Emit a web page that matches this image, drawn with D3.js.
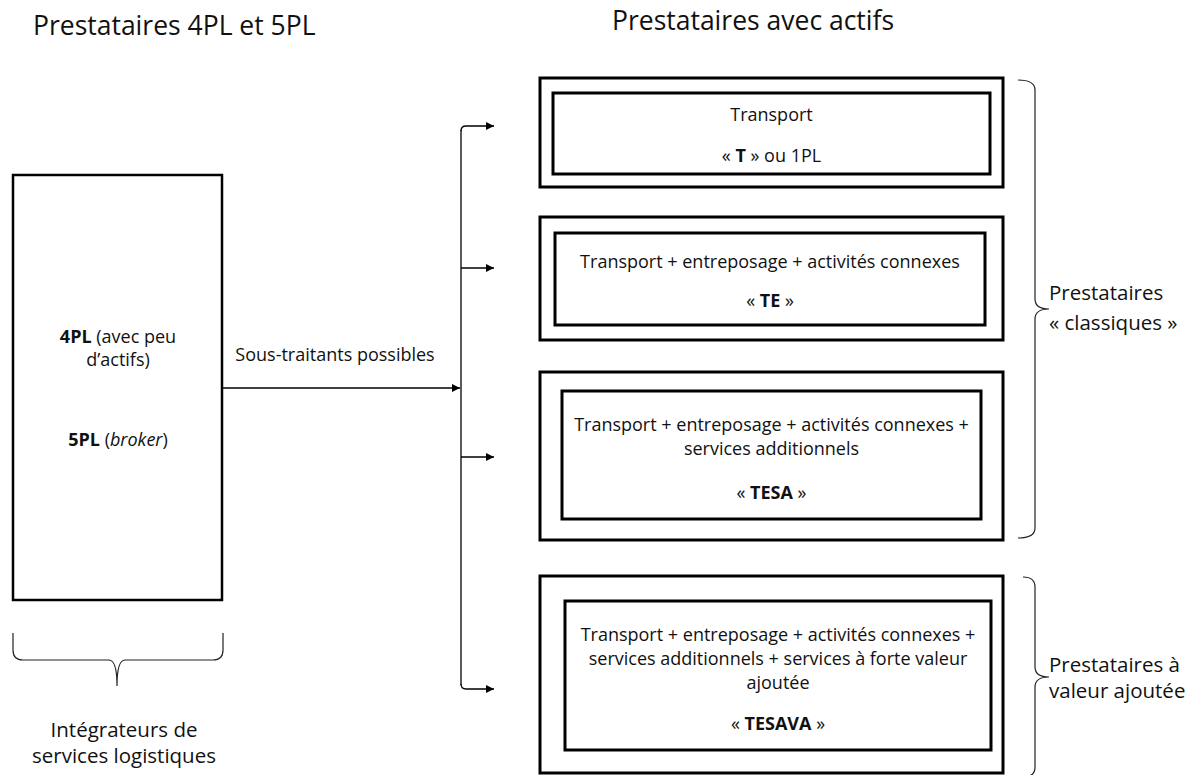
<!DOCTYPE html>
<meta charset="utf-8">
<style>
  body { margin: 0; background: #fff; }
  svg text { font-family: "Open Sans", Lato, sans-serif; fill: #111; }
  .title { font-size: 26.5px; }
  .label { font-size: 18px; }
  .side { font-size: 20.5px; }
  .frame { fill: none; stroke: #000; }
  .link { fill: none; stroke: #000; stroke-width: 1.3px; }
  .brace { fill: none; stroke: #222; stroke-width: 1.2px; }
</style>
<body>
<svg width="1195" height="775"></svg>
<script src="https://d3js.org/d3.v7.min.js"></script>
<script>

// texts, one line = list of [text, style] pieces ("b" bold, "i" italic)
var titles = ["Prestataires 4PL et 5PL", "Prestataires avec actifs"];

var integrator = [
  [["4PL", "b"], [" (avec peu", ""]],
  [["d’actifs)", ""]],
  [["5PL", "b"], [" (", ""], ["broker", "i"], [")", ""]]
];

var linkLabel = "Sous-traitants possibles";

var providers = [
  { lines: [[["Transport", ""]]],
    code: [["« ", ""], ["T", "b"], [" » ou 1PL", ""]] },
  { lines: [[["Transport + entreposage + activités connexes", ""]]],
    code: [["« ", ""], ["TE", "b"], [" »", ""]] },
  { lines: [[["Transport + entreposage + activités connexes +", ""]],
            [["services additionnels", ""]]],
    code: [["« ", ""], ["TESA", "b"], [" »", ""]] },
  { lines: [[["Transport + entreposage + activités connexes +", ""]],
            [["services additionnels + services à forte valeur", ""]],
            [["ajoutée", ""]]],
    code: [["« ", ""], ["TESAVA", "b"], [" »", ""]] }
];

var groupLabels = [
  ["Prestataires", "« classiques »"],
  ["Prestataires à", "valeur ajoutée"]
];
var bottomLabel = ["Intégrateurs de", "services logistiques"];

// ---- layout ----
var svg = d3.select("svg");

var outer = [[78, 187], [217, 340], [372, 540], [576, 773]];
var inner = [[553, 990, 93, 174], [555, 985, 233, 325], [562, 981, 391, 519], [565, 991, 601, 750]];
var codeY = [162, 307, 499, 730];
var firstLineY = [121, 268, 431, 641];
var branchY = [126, 268, 457, 689];
var busX = 461, arrowTip = 494;

function writeLine(sel, pieces) {
  pieces.forEach(function (p) {
    sel.append("tspan")
      .attr("font-weight", p[1] == "b" ? "bold" : null)
      .attr("font-style", p[1] == "i" ? "italic" : null)
      .text(p[0]);
  });
}

svg.append("defs").append("marker")
    .attr("id", "arrow")
    .attr("viewBox", "0 0 10 10")
    .attr("refX", 10).attr("refY", 5)
    .attr("markerWidth", 10).attr("markerHeight", 8)
    .attr("markerUnits", "userSpaceOnUse")
    .attr("orient", "auto")
  .append("path")
    .attr("d", "M0,0L10,5L0,10z")
    .attr("fill", "#000");

// titles
svg.append("text").attr("class", "title").attr("x", 33).attr("y", 35).text(titles[0]);
svg.append("text").attr("class", "title").attr("x", 612).attr("y", 30).text(titles[1]);

// integrator box
svg.append("rect").attr("class", "frame")
    .attr("x", 13).attr("y", 175).attr("width", 209).attr("height", 425)
    .attr("stroke-width", 2.5);

var leftY = [343, 366, 446];
integrator.forEach(function (line, i) {
  writeLine(svg.append("text").attr("class", "label")
      .attr("x", 118).attr("y", leftY[i]).attr("text-anchor", "middle"), line);
});

// main arrow + label
svg.append("path").attr("class", "link")
    .attr("d", d3.line()([[222, 388], [busX - 1, 388]]))
    .attr("stroke-width", 2)
    .attr("marker-end", "url(#arrow)");
svg.append("text").attr("class", "label")
    .attr("x", 335).attr("y", 361).attr("text-anchor", "middle")
    .text(linkLabel);

// bus with branches
var busTop = branchY[0], busBot = branchY[branchY.length - 1];
svg.append("path").attr("class", "link")
    .attr("d", "M" + busX + "," + (busTop + 4) + "L" + busX + "," + (busBot - 4));
branchY.forEach(function (y, i) {
  var d;
  if (i == 0) d = "M" + busX + "," + (y + 5) + "Q" + busX + "," + y + " " + (busX + 5) + "," + y + "L" + arrowTip + "," + y;
  else if (i == branchY.length - 1) d = "M" + busX + "," + (y - 5) + "Q" + busX + "," + y + " " + (busX + 5) + "," + y + "L" + arrowTip + "," + y;
  else d = "M" + busX + "," + y + "L" + arrowTip + "," + y;
  svg.append("path").attr("class", "link").attr("d", d).attr("marker-end", "url(#arrow)");
});

// provider boxes
providers.forEach(function (p, i) {
  var g = svg.append("g");
  g.append("rect").attr("class", "frame")
      .attr("x", 540).attr("y", outer[i][0])
      .attr("width", 463).attr("height", outer[i][1] - outer[i][0])
      .attr("stroke-width", 3);
  var b = inner[i];
  g.append("rect").attr("class", "frame")
      .attr("x", b[0]).attr("y", b[2])
      .attr("width", b[1] - b[0]).attr("height", b[3] - b[2])
      .attr("stroke-width", 3);
  var cx = (b[0] + b[1]) / 2;
  p.lines.forEach(function (line, j) {
    writeLine(g.append("text").attr("class", "label")
        .attr("x", cx).attr("y", firstLineY[i] + j * 24)
        .attr("text-anchor", "middle"), line);
  });
  writeLine(g.append("text").attr("class", "label")
      .attr("x", cx).attr("y", codeY[i]).attr("text-anchor", "middle"), p.code);
});

// vertical curly brace opening to the right
function braceV(x, y0, y1, w) {
  var m = (y0 + y1) / 2, r = 10;
  return "M" + x + "," + y0 +
    "Q" + (x + w) + "," + y0 + " " + (x + w) + "," + (y0 + r) +
    "L" + (x + w) + "," + (m - r) +
    "Q" + (x + w) + "," + m + " " + (x + w + 14) + "," + m +
    "Q" + (x + w) + "," + m + " " + (x + w) + "," + (m + r) +
    "L" + (x + w) + "," + (y1 - r) +
    "Q" + (x + w) + "," + y1 + " " + x + "," + y1;
}
svg.append("path").attr("class", "brace").attr("d", braceV(1018, 80, 538, 17));
svg.append("path").attr("class", "brace").attr("d", braceV(1023, 577, 777, 12));

var groupY = [[300, 330], [672, 698]];
groupLabels.forEach(function (lines, i) {
  lines.forEach(function (t, j) {
    svg.append("text").attr("class", "side")
        .attr("x", 1049).attr("y", groupY[i][j]).text(t);
  });
});

// horizontal brace under the integrator box
var bx0 = 13, bx1 = 223, by0 = 633, by1 = 660, tip = 686, bm = 117;
svg.append("path").attr("class", "brace")
    .attr("d", "M" + bx0 + "," + by0 +
      "L" + bx0 + "," + (by1 - 10) + "Q" + bx0 + "," + by1 + " " + (bx0 + 10) + "," + by1 +
      "L" + (bm - 8) + "," + by1 + "Q" + bm + "," + by1 + " " + bm + "," + tip +
      "Q" + bm + "," + by1 + " " + (bm + 8) + "," + by1 +
      "L" + (bx1 - 10) + "," + by1 + "Q" + bx1 + "," + by1 + " " + bx1 + "," + (by1 - 10) +
      "L" + bx1 + "," + by0);

bottomLabel.forEach(function (t, j) {
  svg.append("text").attr("class", "side")
      .attr("x", 124).attr("y", 737 + j * 26).attr("text-anchor", "middle").text(t);
});
</script>
</body>
